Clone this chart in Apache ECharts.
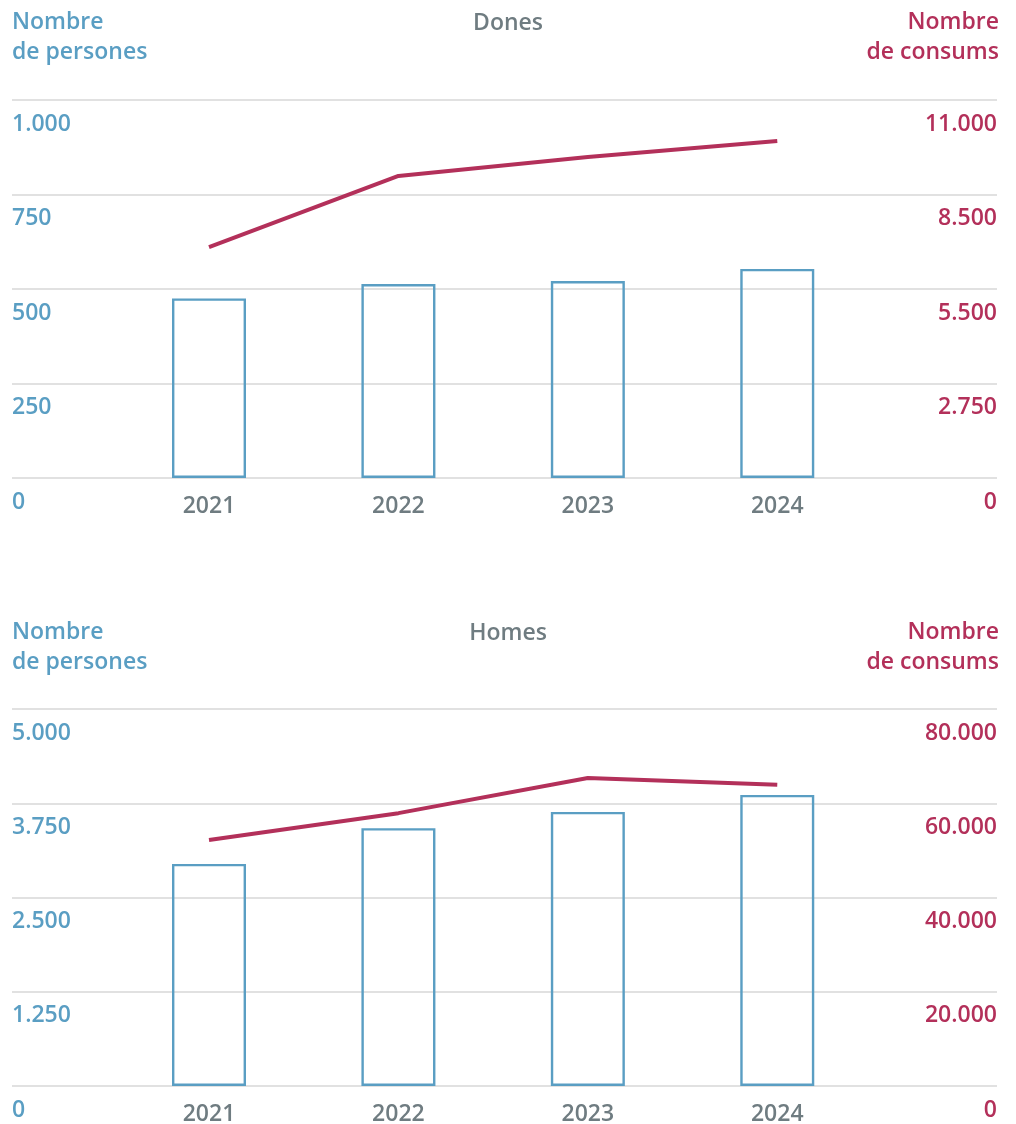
<!DOCTYPE html>
<html>
<head>
<meta charset="utf-8">
<script src="https://cdn.jsdelivr.net/npm/echarts@6/dist/echarts.min.js"></script>
<style>
	html, body {
		margin: 0;
		padding: 0;
		background: #ffffff;
	}

	#main {
		width: 1016px;
		height: 1124px;
	}
</style>
</head>
<body>
<div id="main"></div>
<script>
	// dades
	var years = ['2021', '2022', '2023', '2024'];

	var donesPersones = [475, 513, 521, 553];
	var donesConsums = [6720, 8790, 9340, 9810];
	var homesPersones = [2945, 3420, 3635, 3860];
	var homesConsums = [52200, 57900, 65350, 63900];

	var donesLeftTicks = ['0', '250', '500', '750', '1.000'];
	var donesRightTicks = ['0', '2.750', '5.500', '8.500', '11.000'];
	var homesLeftTicks = ['0', '1.250', '2.500', '3.750', '5.000'];
	var homesRightTicks = ['0', '20.000', '40.000', '60.000', '80.000'];

	var BLUE = '#5a9ec3';
	var RED = '#b3305a';
	var GRAY = '#6f7c81';
	var FONT = 'Open Sans';
	var FS = 23;

	function pairs(arr) {
		return arr.map(function (v, i) { return [i, v]; });
	}

	function yAxis(gridIndex, max, ticks, side) {
		var left = side === 'left';
		return {
			type: 'value',
			gridIndex: gridIndex,
			position: side,
			min: 0,
			max: max,
			interval: max / 4,
			axisLine: { show: false },
			axisTick: { show: false },
			splitLine: left ? { lineStyle: { color: '#e1e1e1', width: 2 } } : { show: false },
			axisLabel: {
				inside: true,
				margin: 0,
				color: left ? BLUE : RED,
				fontFamily: FONT,
				fontWeight: 600,
				fontSize: FS,
				verticalAlign: 'top',
				lineHeight: 48,
				formatter: function (v) { return ticks[Math.round(v / (max / 4))]; }
			}
		};
	}

	function xAxis(gridIndex) {
		return {
			type: 'value',
			gridIndex: gridIndex,
			min: -1.04,
			max: 4.16,
			axisLine: { show: false },
			axisTick: { show: false },
			splitLine: { show: false },
			axisLabel: {
				customValues: [0, 1, 2, 3],
				margin: 17,
				lineHeight: 23,
				color: GRAY,
				fontFamily: FONT,
				fontWeight: 600,
				fontSize: FS,
				formatter: function (v) { return years[Math.round(v)]; }
			}
		};
	}

	function barSerie(x, y, data) {
		return {
			type: 'bar',
			xAxisIndex: x,
			yAxisIndex: y,
			barWidth: 74,
			data: pairs(data),
			itemStyle: { color: 'rgba(0,0,0,0)', borderColor: BLUE, borderWidth: 2.4 },
			z: 3
		};
	}

	function lineSerie(x, y, data) {
		return {
			type: 'line',
			xAxisIndex: x,
			yAxisIndex: y,
			data: pairs(data),
			symbol: 'none',
			lineStyle: { color: RED, width: 4 },
			z: 4
		};
	}

	function titles(top, name) {
		function txt(text, color) {
			return {
				text: text,
				fill: color,
				fontFamily: FONT,
				fontWeight: 600,
				fontSize: FS,
				lineHeight: 30
			};
		}
		return [
			{ type: 'text', left: 'center', top: top + 1, style: txt(name, GRAY) },
			{ type: 'text', left: 12, top: top, style: txt('Nombre', BLUE) },
			{ type: 'text', left: 12, top: top + 30, style: txt('de persones', BLUE) },
			{ type: 'text', right: 17, top: top, style: txt('Nombre', RED) },
			{ type: 'text', right: 17, top: top + 30, style: txt('de consums', RED) }
		];
	}

	var chart = echarts.init(document.getElementById('main'));
	chart.setOption({
		animation: false,
		graphic: titles(7, 'Dones').concat(titles(617, 'Homes')),
		grid: [
			{ left: 12, right: 19, top: 100, height: 378, outerBoundsMode: 'none' },
			{ left: 12, right: 19, top: 709, height: 377, outerBoundsMode: 'none' }
		],
		xAxis: [xAxis(0), xAxis(1)],
		yAxis: [
			yAxis(0, 1000, donesLeftTicks, 'left'),
			yAxis(0, 11000, donesRightTicks, 'right'),
			yAxis(1, 5000, homesLeftTicks, 'left'),
			yAxis(1, 80000, homesRightTicks, 'right')
		],
		series: [
			barSerie(0, 0, donesPersones),
			lineSerie(0, 1, donesConsums),
			barSerie(1, 2, homesPersones),
			lineSerie(1, 3, homesConsums)
		]
	});
</script>
</body>
</html>
